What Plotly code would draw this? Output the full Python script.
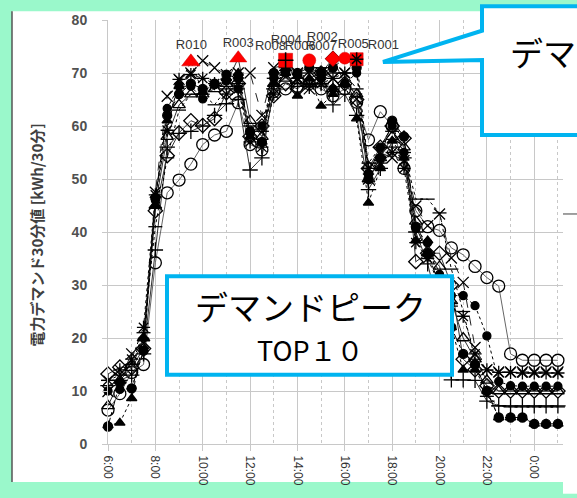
import plotly.graph_objects as go

# ---------------- data ----------------
hours = [6.0, 6.5, 7.0, 7.5, 8.0, 8.5, 9.0, 9.5, 10.0, 10.5, 11.0, 11.5, 12.0,
         12.5, 13.0, 13.5, 14.0, 14.5, 15.0, 15.5, 16.0, 16.5, 17.0, 17.5, 18.0,
         18.5, 19.0, 19.5, 20.0, 20.5, 21.0, 21.5, 22.0, 22.5, 23.0, 23.5, 24.0,
         24.5, 25.0]

tick_vals = [6, 8, 10, 12, 14, 16, 18, 20, 22, 24]
tick_text = ["6:00", "8:00", "10:00", "12:00", "14:00", "16:00", "18:00",
             "20:00", "22:00", "0:00"]
minor_vals = [7, 9, 11, 13, 15, 17, 19, 21, 23, 25]

s_circle_open = [6.4, 9.5, 13.5, 15.0, 34.2, 47.4, 49.8, 52.8, 56.5, 58.3, 59.0, 64.4, 56.5,
                 55.5, 66.5, 67.0, 67.5, 68.0, 67.0, 65.7, 67.0, 64.5, 57.4, 62.7, 60.0,
                 52.0, 44.0, 41.0, 40.3, 37.0, 35.7, 33.5, 31.4, 29.8, 17.0, 15.8, 15.8,
                 15.8, 15.8]
s_circle_fill = [10.0, 10.3, 10.5, 17.6, 46.0, 63.3, 67.5, 67.5, 65.1, 67.8, 68.5, 67.0, 58.7,
                 60.0, 69.0, 70.0, 69.5, 72.4, 69.0, 67.0, 68.0, 70.0, 51.0, 56.0, 60.0,
                 55.0, 40.6, 38.0, 32.0, 28.0, 28.0, 26.1, 20.4, 11.8, 11.0, 10.9, 10.9,
                 10.9, 10.9]
s_tri_fill = [3.5, 4.0, 8.6, 20.0, 45.0, 61.0, 67.5, 72.1, 66.4, 68.0, 69.0, 70.0, 58.0,
              57.0, 68.0, 70.0, 65.7, 69.0, 63.8, 66.0, 68.0, 61.4, 45.5, 52.0, 57.2,
              54.0, 38.4, 38.4, 30.0, 22.0, 14.0, 14.0, 10.0, 5.0, 5.0, 5.0, 3.8,
              3.8, 3.8]
s_tri_open = [7.2, 12.0, 14.4, 20.0, 45.0, 58.0, 64.0, 66.0, 66.0, 67.0, 68.0, 72.8, 61.0,
              58.0, 68.0, 69.0, 68.0, 68.5, 68.0, 67.0, 68.0, 66.0, 50.0, 54.0, 58.0,
              56.0, 42.0, 36.0, 33.5, 27.0, 20.0, 16.0, 12.0, 10.0, 10.0, 10.0, 10.0,
              10.0, 10.0]
s_x = [9.9, 12.5, 17.0, 19.0, 47.5, 65.6, 68.8, 70.0, 72.3, 71.0, 69.7, 70.0, 70.0,
       62.0, 71.0, 71.5, 70.0, 67.0, 70.0, 69.0, 70.0, 65.1, 50.0, 55.0, 54.0,
       53.5, 44.9, 41.2, 43.4, 35.1, 30.5, 18.2, 14.0, 13.6, 13.6, 13.6, 13.6,
       13.6, 13.6]
s_star = [12.0, 14.0, 16.0, 22.0, 47.0, 59.2, 68.8, 69.7, 69.0, 68.0, 66.0, 67.0, 57.0,
          56.0, 66.0, 70.5, 69.0, 67.8, 68.0, 69.0, 70.0, 72.6, 52.0, 53.0, 55.0,
          52.0, 38.0, 35.0, 30.0, 26.0, 24.1, 17.0, 14.0, 13.5, 13.5, 13.4, 13.4,
          13.4, 13.4]
s_diamond = [13.2, 14.5, 14.4, 18.0, 44.0, 54.4, 58.7, 61.0, 60.1, 61.4, 66.3, 68.0, 58.0,
             60.0, 65.7, 68.0, 67.0, 69.0, 70.0, 72.7, 68.0, 65.0, 52.0, 56.0, 60.0,
             57.7, 34.4, 36.0, 36.0, 30.0, 16.0, 14.0, 11.0, 10.0, 10.0, 10.0, 10.0,
             10.0, 10.0]
s_plus = [11.0, 12.0, 13.0, 17.0, 36.6, 56.0, 58.6, 59.0, 60.0, 62.0, 64.2, 65.0, 51.7,
          54.0, 67.0, 72.4, 68.0, 67.5, 68.0, 64.0, 66.0, 62.0, 48.0, 52.0, 56.0,
          54.0, 40.0, 34.0, 25.0, 12.1, 12.1, 12.0, 8.1, 7.2, 7.2, 7.2, 7.2,
          7.2, 7.2]
s_dash = [12.0, 13.0, 15.0, 21.0, 41.0, 54.0, 63.0, 66.0, 66.0, 64.0, 67.0, 68.0, 60.0,
          59.0, 69.0, 71.0, 69.0, 70.0, 71.0, 70.0, 70.0, 67.0, 53.0, 56.0, 59.0,
          55.0, 46.2, 46.2, 43.6, 33.0, 25.0, 16.0, 9.0, 7.2, 7.0, 7.0, 7.0,
          7.0, 7.0]
s_drop = [3.3, 11.6, 10.5, 17.6, 46.5, 62.0, 66.0, 68.0, 67.0, 68.0, 69.7, 69.0, 59.0,
          57.0, 70.0, 70.5, 70.0, 71.0, 70.0, 71.0, 72.8, 71.0, 50.0, 54.0, 61.0,
          58.0, 41.0, 36.0, 30.0, 22.0, 17.0, 15.0, 10.0, 5.0, 5.0, 5.0, 3.8,
          3.8, 3.8]

peak_x = [9.5, 11.5, 13.5, 14.5, 15.5, 16.0, 16.5]
peak_y = [72.1, 72.8, 72.4, 72.4, 72.7, 72.8, 72.6]
peak_symbols = ["triangle-up", "triangle-up", "square", "circle", "diamond", "circle", "square"]
peak_sizes = [16, 15, 14, 13, 12, 12, 13]
peak_inner_x = [13.5, 16.5]
peak_inner_y = [72.4, 72.6]
peak_inner_symbols = ["cross-thin-open", "asterisk-open"]

label_text = ["R010", "R003", "R008", "R004", "R006", "R007", "R002", "R005", "R001"]
label_x = [9.52, 11.5, 12.86, 13.53, 14.12, 15.01, 15.05, 16.36, 17.63]
label_y = [75.2, 75.6, 75.0, 76.0, 75.0, 75.0, 76.7, 75.4, 75.2]

y_title = "電力デマンド30分値 [kWh/30分]"
box1_lines = ["デマンドピーク", "TOP１０"]
box2_text = "デマンドピーク"

# ---------------- geometry helpers (pixels -> paper) ----------------
W, H = 577, 498
ML, MR, MT, MB = 108, 14, 19, 44
PW, PH = W - ML - MR, H - MT - MB


def px(x):
    return (x - ML) / PW


def py(y):
    return (H - MB - y) / PH


CYAN = "#00B4F0"
GREEN = "#9AF8CB"
GRID = "#c8c8c8"

fig = go.Figure()

styles = [
    (s_circle_open, "circle-open", 12, "solid", "#666666"),
    (s_diamond, "diamond-open", 11, "solid", "#333333"),
    (s_tri_open, "triangle-up-open", 11, "solid", "#333333"),
    (s_plus, "cross-thin-open", 11, "solid", "#333333"),
    (s_dash, "line-ew-open", 10, "dot", "#000000"),
    (s_x, "x-thin-open", 11, "dash", "#222222"),
    (s_star, "asterisk-open", 11, "dot", "#000000"),
    (s_circle_fill, "circle", 8, "dot", "#000000"),
    (s_tri_fill, "triangle-up", 9, "dot", "#000000"),
    (s_drop, "circle", 9, "dashdot", "#000000"),
]

for vals, sym, size, dash, lc in styles:
    fig.add_trace(go.Scatter(
        x=hours, y=vals, mode="lines+markers", cliponaxis=False,
        line=dict(color=lc, width=1, dash=dash),
        marker=dict(symbol=sym, size=size, color="#000000", opacity=1,
                    line=dict(color="#000000", width=1.3)),
        showlegend=False, hoverinfo="skip"))

fig.add_trace(go.Scatter(
    x=peak_x, y=peak_y, mode="markers", cliponaxis=False,
    marker=dict(symbol=peak_symbols, size=peak_sizes, color="#FF0000", opacity=1,
                line=dict(color="#D00000", width=0.5)),
    showlegend=False, hoverinfo="skip"))
fig.add_trace(go.Scatter(
    x=peak_inner_x, y=peak_inner_y, mode="markers", cliponaxis=False,
    marker=dict(symbol=peak_inner_symbols, size=11, color="#000000", opacity=1,
                line=dict(color="#000000", width=1.5)),
    showlegend=False, hoverinfo="skip"))
fig.add_trace(go.Scatter(
    x=label_x, y=label_y, mode="text", text=label_text, cliponaxis=False,
    textfont=dict(family="Liberation Sans, Arial", size=13, color="#333333"),
    showlegend=False, hoverinfo="skip"))

shapes = [
    dict(type="rect", xref="paper", yref="paper", x0=px(12), x1=px(590), y0=py(10), y1=py(493),
         fillcolor="white", line=dict(width=0), layer="below"),
    dict(type="rect", xref="paper", yref="paper", x0=px(563), x1=px(590), y0=py(490), y1=py(505),
         fillcolor="white", line=dict(width=0), layer="below"),
    dict(type="line", xref="paper", yref="paper", x0=px(12), x1=px(12), y0=py(10), y1=py(493),
         line=dict(color="#555555", width=1.5), layer="below"),
    dict(type="line", xref="paper", yref="paper", x0=px(563), x1=px(580), y0=py(218), y1=py(218),
         line=dict(color="#808080", width=1.5), layer="below"),
    dict(type="rect", xref="paper", yref="paper", x0=px(167), x1=px(452), y0=py(282), y1=py(383),
         fillcolor="white", line=dict(color=CYAN, width=4), layer="above"),
    dict(type="path", xref="paper", yref="paper",
         path="M {a},{b} L {a},{c} L {d},{c} L {d},{e} L {a},{e} L {a},{f} L {g},{h} Z".format(
             a=px(482), b=py(30), c=py(5), d=px(600), e=py(137), f=py(60), g=px(383), h=py(62)),
         fillcolor="white", line=dict(color=CYAN, width=4), layer="above"),
]

annotations = [
    dict(xref="paper", yref="paper", x=px(36), y=py(240), text="<b>" + y_title + "</b>",
         textangle=-90, showarrow=False, xanchor="center", yanchor="middle",
         font=dict(family="Noto Sans CJK JP", size=15, color="#404040")),
    dict(xref="paper", yref="paper", x=px(310), y=py(312), text=box1_lines[0],
         showarrow=False, xanchor="center", yanchor="middle",
         font=dict(family="Noto Sans CJK JP", size=33, color="#000000")),
    dict(xref="paper", yref="paper", x=px(310), y=py(357), text=box1_lines[1],
         showarrow=False, xanchor="center", yanchor="middle",
         font=dict(family="Noto Sans CJK JP", size=27, color="#000000")),
    dict(xref="paper", yref="paper", x=px(508), y=py(52), text=box2_text,
         showarrow=False, xanchor="left", yanchor="middle",
         font=dict(family="Noto Sans CJK JP", size=33, color="#000000")),
]

fig.update_layout(
    width=W, height=H,
    margin=dict(l=ML, r=MR, t=MT, b=MB, pad=0),
    paper_bgcolor=GREEN, plot_bgcolor="rgba(0,0,0,0)",
    shapes=shapes, annotations=annotations, showlegend=False,
    xaxis=dict(range=[6, 6 + PW / 23.68], tickmode="array", tickvals=tick_vals, ticktext=tick_text,
               tickangle=90, ticks="outside", ticklen=6, tickcolor=GRID,
               showgrid=True, gridcolor=GRID, gridwidth=1, zeroline=False,
               showline=True, linecolor=GRID, linewidth=1,
               minor=dict(tickmode="array", tickvals=minor_vals, showgrid=True,
                          gridcolor=GRID, griddash="dot", ticks=""),
               tickfont=dict(family="Liberation Sans, Arial", size=12, color="#333333"),
               ticklabelstandoff=2),
    yaxis=dict(range=[0, 80], tickmode="linear", tick0=0, dtick=10,
               ticks="outside", ticklen=5, tickcolor=GRID,
               showgrid=True, gridcolor=GRID, gridwidth=1, zeroline=False,
               showline=True, linecolor=GRID, linewidth=1,
               tickfont=dict(family="Liberation Sans, Arial", size=14, color="#505050",
                             weight="bold"),
               ticklabelstandoff=12),
)

fig.write_html(
    "out.html",
    config={"displayModeBar": False},
    post_script="document.body.style.margin='0px';document.body.style.padding='0px';"
                "document.body.style.overflow='hidden';"
                "document.body.style.background='" + GREEN + "';",
)
